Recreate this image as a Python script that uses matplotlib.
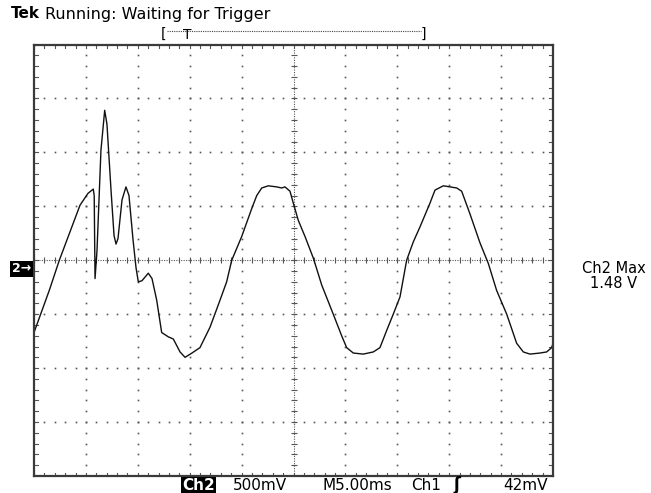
import numpy as np
import matplotlib
matplotlib.use("Agg")
import matplotlib.pyplot as plt
from matplotlib.lines import Line2D

# ---------------------------
# Scope settings
# ---------------------------
ms_per_div = 5.0          # M5.00ms
volts_per_div = 0.5       # Ch2 500mV
ground = 0.08             # graticule centre sits 0.08 V above Ch2 ground

# ---------------------------
# Ch2 trace (time in ms, level in V)
# ---------------------------
t_ms = [0.00, 1.47, 2.44, 4.43, 5.20, 5.71, 5.80, 5.88, 6.07, 6.45,
        6.81, 7.03, 7.42, 7.71, 7.90, 8.09, 8.48, 8.86, 9.15, 9.54,
        9.83, 10.05, 10.40, 11.01, 11.37, 11.82, 12.30, 12.94, 13.42, 14.07,
        14.55, 15.22, 15.99, 16.96, 17.92, 18.56, 19.05, 20.01, 20.98, 21.46,
        21.94, 22.57, 23.38, 23.86, 24.18, 24.66, 24.98, 25.46, 26.11, 26.91,
        27.72, 28.83, 29.64, 30.12, 30.76, 31.72, 32.69, 33.33, 33.98, 34.61,
        35.26, 35.90, 36.54, 37.19, 38.15, 38.63, 39.43, 40.08, 40.72, 41.20,
        42.00, 42.97, 43.77, 44.57, 45.54, 46.50, 47.14, 47.78, 48.75, 49.39,
        49.87, 50.00]
ch2_v = [-0.59, -0.20, 0.08, 0.59, 0.70, 0.74, 0.68, -0.09, 0.17, 1.10,
         1.47, 1.34, 0.73, 0.31, 0.23, 0.28, 0.64, 0.76, 0.68, 0.27,
         0.01, -0.12, -0.11, -0.04, -0.09, -0.29, -0.59, -0.63, -0.65, -0.77,
         -0.82, -0.78, -0.73, -0.54, -0.29, -0.12, 0.08, 0.30, 0.56, 0.68,
         0.75, 0.77, 0.76, 0.75, 0.76, 0.72, 0.61, 0.45, 0.30, 0.10,
         -0.15, -0.42, -0.62, -0.73, -0.78, -0.79, -0.77, -0.73, -0.57, -0.42,
         -0.26, 0.08, 0.25, 0.39, 0.61, 0.73, 0.77, 0.76, 0.75, 0.72,
         0.51, 0.24, 0.05, -0.20, -0.42, -0.69, -0.77, -0.79, -0.78, -0.77,
         -0.73, -0.69]

# readouts
title_brand = "Tek"
title_status = "Running: Waiting for Trigger"
ch_label = "Ch2"
ch_scale = "500mV"
time_base = "M5.00ms"
trig_src = "Ch1"
trig_level = "42mV"
meas_name = "Ch2 Max"
meas_value = "1.48 V"
trig_pos_ms = 14.8

# ---------------------------
# Figure / graticule
# ---------------------------
W, H = 651, 493
fig = plt.figure(figsize=(W / 100, H / 100), dpi=100)
fig.patch.set_facecolor("white")


def fx(px):
    return px / W


def fy(py):
    return 1 - py / H


ax = fig.add_axes([fx(34), fy(476), (553 - 34) / W, (476 - 44.5) / H])
x0, x1 = 0, 10 * ms_per_div
y0, y1 = ground - 4 * volts_per_div, ground + 4 * volts_per_div
ax.set_xlim(x0, x1)
ax.set_ylim(y0, y1)
ax.set_xticks([])
ax.set_yticks([])
for s in ax.spines.values():
    s.set_color("#3a3a3a")
    s.set_linewidth(1.6)

grid_col = "#555555"
minor_t = np.arange(x0, x1 + 1e-9, ms_per_div / 5)
minor_v = np.arange(y0, y1 + 1e-9, volts_per_div / 5)
major_t = np.arange(x0 + ms_per_div, x1 - 1e-9, ms_per_div)
major_v = np.arange(y0 + volts_per_div, y1 - 1e-9, volts_per_div)
centre_t = 5 * ms_per_div

# dotted major grid
for t in major_t:
    if abs(t - centre_t) < 1e-6:
        continue
    ax.plot(np.full_like(minor_v, t), minor_v, ls="none", marker="s",
            ms=1.2, mew=0, color=grid_col)
for v in major_v:
    if abs(v - ground) < 1e-6:
        continue
    ax.plot(minor_t, np.full_like(minor_t, v), ls="none", marker="s",
            ms=1.2, mew=0, color=grid_col)

# centre crosshair with minor ticks
ax.axhline(ground, color=grid_col, lw=0.8, ls=(0, (1, 1.2)))
ax.axvline(centre_t, color=grid_col, lw=0.8, ls=(0, (1, 1.2)))
ax.plot(minor_t, np.full_like(minor_t, ground), ls="none", marker="|",
        ms=5, mew=0.8, color=grid_col)
ax.plot(np.full_like(minor_v, centre_t), minor_v, ls="none", marker="_",
        ms=5, mew=0.8, color=grid_col)

# minor ticks along the frame
tick_len_t = (y1 - y0) * 0.008
tick_len_v = (x1 - x0) * 0.007
for t in minor_t:
    ax.plot([t, t], [y1, y1 - tick_len_t], color=grid_col, lw=0.8)
    ax.plot([t, t], [y0, y0 + tick_len_t], color=grid_col, lw=0.8)
for v in minor_v:
    ax.plot([x0, x0 + tick_len_v], [v, v], color=grid_col, lw=0.8)
    ax.plot([x1, x1 - tick_len_v], [v, v], color=grid_col, lw=0.8)

# ---------------------------
# Trace
# ---------------------------
ax.plot(t_ms, ch2_v, color="#111111", lw=1.0, solid_joinstyle="round")

# ---------------------------
# Readouts
# ---------------------------
fig.text(fx(11), fy(18.5), title_brand, fontsize=11, fontweight="bold",
         va="baseline", ha="left")
fig.text(fx(45), fy(18.5), title_status, fontsize=11.5, va="baseline", ha="left")

# trigger / record bracket
ax_left_px, ax_w_px = 34, 553 - 34
trig_px = ax_left_px + (trig_pos_ms - x0) / (x1 - x0) * ax_w_px
fig.text(fx(161), fy(34), "[", fontsize=10, va="center", ha="left")
fig.text(fx(426), fy(34), "]", fontsize=10, va="center", ha="right")
fig.add_artist(Line2D([fx(167), fx(421)], [fy(31), fy(31)],
                      transform=fig.transFigure, color="#444444", lw=0.8,
                      ls=(0, (1, 1))))
fig.text(fx(trig_px), fy(35), "T", fontsize=10, va="center", ha="center")

# ground marker
fig.text(fx(21.5), fy(269), "2\u2192", fontsize=9, fontweight="bold",
         color="white", va="center", ha="center",
         bbox=dict(boxstyle="square,pad=0.15", fc="black", ec="none"))

# measurement
fig.text(fx(614), fy(276), meas_name + "\n" + meas_value, fontsize=10.5,
         va="center", ha="center", multialignment="center", linespacing=0.95)

# bottom status line
base = fy(490)
fig.text(fx(198.5), base, ch_label, fontsize=11, fontweight="bold",
         color="white", va="baseline", ha="center",
         bbox=dict(boxstyle="square,pad=0.05", fc="black", ec="none"))
fig.text(fx(233), base, ch_scale, fontsize=11, va="baseline", ha="left")
fig.text(fx(322), base, time_base, fontsize=11, va="baseline", ha="left")
fig.text(fx(411), base, trig_src, fontsize=11, va="baseline", ha="left")
fig.text(fx(457), base, "\u0283", fontsize=12, fontweight="bold",
         va="baseline", ha="center")
fig.text(fx(548), base, trig_level, fontsize=11, va="baseline", ha="right")

fig.savefig("out.png", dpi=100)
